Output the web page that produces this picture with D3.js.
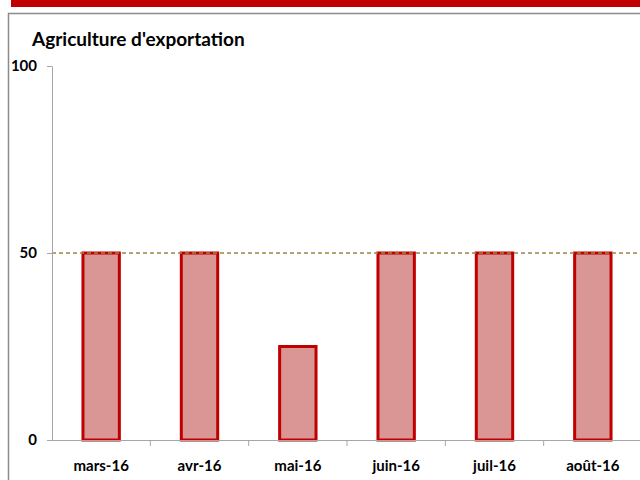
<!DOCTYPE html>
<html><head><meta charset="utf-8">
<script src="https://cdn.jsdelivr.net/npm/d3@7/dist/d3.min.js"></script>
<style>body{margin:0;background:#fff}svg{display:block}</style>
</head><body>
<svg id="c" width="640" height="480"></svg>
<script>
const categories = ["mars-16","avr-16","mai-16","juin-16","juil-16","août-16"];
const values = [50,50,25,50,50,50];
const yTicks = [0,50,100];
const refValue = 50;
const title = "Agriculture d'exportation";

const svg = d3.select("#c");
const font = "Lato, 'Open Sans', sans-serif";
// red band and frame
svg.append("rect").attr("x",11).attr("y",0).attr("width",629).attr("height",7).attr("fill","#c00000");
svg.append("path").attr("d","M8.5,480 V13.5 H640").attr("fill","none").attr("stroke","#8c8c8c").attr("stroke-width",1.5);

const x = d3.scaleBand().domain(categories).range([52,642]).paddingInner(0.63).paddingOuter(0.315);
const y = d3.scaleLinear().domain([0,100]).range([440,66]);

// bars
svg.append("g").selectAll("rect").data(values).join("rect")
  .attr("x",(d,i)=>x(categories[i]))
  .attr("y",d=>y(d))
  .attr("width",x.bandwidth())
  .attr("height",d=>y(0)-y(d))
  .attr("fill","#d99694").attr("stroke","#c00000").attr("stroke-width",3);

// reference dashed line
svg.append("line").attr("x1",52).attr("x2",640).attr("y1",y(refValue)).attr("y2",y(refValue))
  .attr("stroke","#9a8545").attr("stroke-width",1.4).attr("stroke-dasharray","4,3");

// y axis
const ya = svg.append("g").attr("transform","translate(52,0)")
  .call(d3.axisLeft(y).tickValues(yTicks).tickSize(5).tickSizeOuter(0).tickFormat(d3.format("d")));
ya.select(".domain").attr("stroke","#a6a6a6");
ya.selectAll(".tick line").attr("stroke","#a6a6a6");
ya.selectAll("text").attr("font-family",font).attr("font-size",15).attr("font-weight","bold").attr("fill","#000").attr("x",-15);

// x axis
const xa = svg.append("g").attr("transform","translate(0,440)")
  .call(d3.axisBottom(x).tickSize(0).tickSizeOuter(0));
xa.select(".domain").remove();
svg.append("line").attr("x1",52).attr("x2",640).attr("y1",440.5).attr("y2",440.5).attr("stroke","#a6a6a6");
svg.append("g").selectAll("line").data(categories.slice(1)).join("line")
  .attr("x1",d=>x(d)-x.paddingInner()*x.step()/2)
  .attr("x2",d=>x(d)-x.paddingInner()*x.step()/2)
  .attr("y1",440).attr("y2",446).attr("stroke","#a6a6a6");
xa.selectAll("text").attr("font-family",font).attr("font-size",15).attr("font-weight","bold").attr("fill","#000").attr("dy","1.85em");

svg.append("text").attr("x",32).attr("y",46).text(title)
  .attr("font-family",font).attr("font-size",19).attr("font-weight","bold").attr("fill","#000");
</script>
</body></html>
